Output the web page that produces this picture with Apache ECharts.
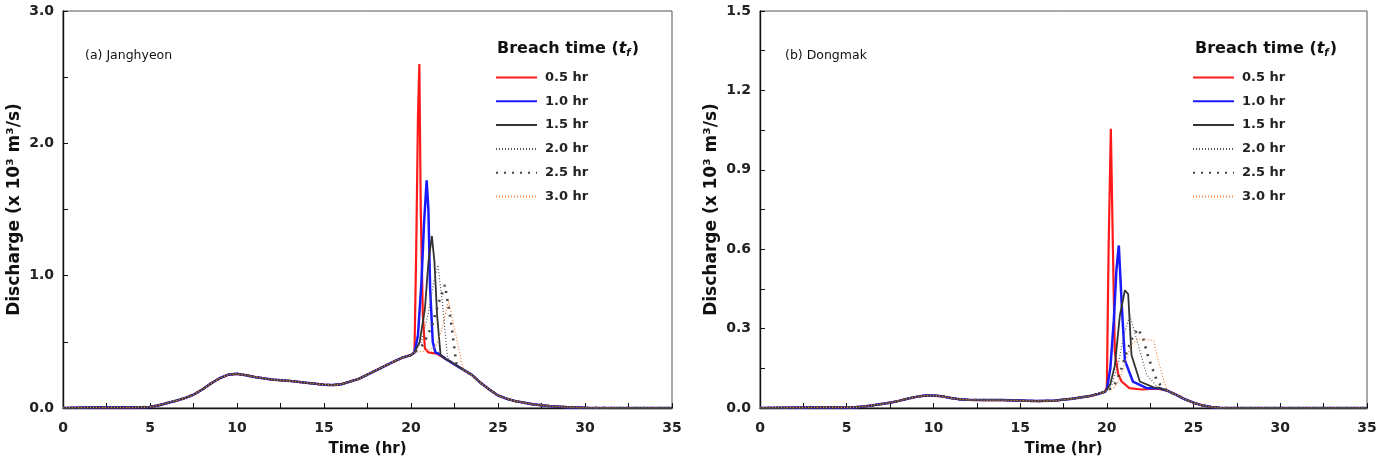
<!DOCTYPE html>
<html lang="en">
<head>
    <meta charset="UTF-8">
    <title>Breach hydrographs</title>
    <script src="https://cdn.jsdelivr.net/npm/echarts@6/dist/echarts.min.js"></script>
    <style>
        html, body { margin: 0; padding: 0; background: #fff; }
        #chart { width: 1383px; height: 462px; }
    </style>
</head>
<body>
<div id="chart"></div>
<script type="text/javascript">
    // legend names (breach time)
    var names = ['0.5 hr', '1.0 hr', '1.5 hr', '2.0 hr', '2.5 hr', '3.0 hr'];

    // (a) Janghyeon - inflow hydrograph before breach
    var baseT_a = [0, 2, 4, 5, 5.5, 6, 6.5, 7, 7.5, 8, 8.5, 9, 9.5, 10, 10.5, 11, 12, 13, 14, 15, 15.5, 16, 17, 18, 19, 19.5, 20, 20.1];
    var baseQ_a = [0, 0.005, 0.005, 0.008, 0.02, 0.038, 0.055, 0.075, 0.1, 0.14, 0.185, 0.225, 0.252, 0.258, 0.248, 0.235, 0.215, 0.205, 0.19, 0.176, 0.173, 0.18, 0.22, 0.285, 0.35, 0.38, 0.4, 0.405];
    // (a) recession after breach
    var recT_a = [23.5, 24, 24.5, 25, 25.5, 26, 26.5, 27, 28, 29, 30, 32, 35];
    var recQ_a = [0.25, 0.19, 0.14, 0.095, 0.07, 0.052, 0.04, 0.028, 0.014, 0.006, 0.002, 0, 0];
    // (a) breach segments
    var t05_a = [20.2, 20.3, 20.4, 20.48, 20.56, 20.68, 20.8, 21.0, 21.5, 22.0, 22.5, 23.0];
    var q05_a = [0.42, 1.2, 2.2, 2.6, 1.5, 0.7, 0.45, 0.42, 0.41, 0.37, 0.33, 0.29];
    var t10_a = [20.2, 20.4, 20.6, 20.75, 20.9, 21.0, 21.1, 21.25, 21.4, 21.6, 22.0, 22.5, 23.0];
    var q10_a = [0.42, 0.55, 0.95, 1.4, 1.72, 1.5, 0.9, 0.5, 0.42, 0.41, 0.37, 0.33, 0.29];
    var t15_a = [20.2, 20.5, 20.8, 21.0, 21.2, 21.35, 21.5, 21.7, 22.0, 22.5, 23.0];
    var q15_a = [0.42, 0.5, 0.75, 1.1, 1.3, 1.1, 0.7, 0.4, 0.37, 0.33, 0.29];
    var t20_a = [20.2, 20.6, 21.0, 21.3, 21.55, 21.8, 22.1, 22.5, 23.0];
    var q20_a = [0.42, 0.5, 0.72, 0.95, 1.08, 0.8, 0.38, 0.33, 0.29];
    var t25_a = [20.2, 20.7, 21.2, 21.6, 21.95, 22.3, 22.6, 23.0];
    var q25_a = [0.42, 0.48, 0.62, 0.8, 0.93, 0.65, 0.34, 0.29];
    var t30_a = [20.2, 20.8, 21.4, 21.75, 22.15, 22.5, 23.0];
    var q30_a = [0.42, 0.43, 0.46, 0.58, 0.81, 0.6, 0.29];

    // (b) Dongmak
    var baseT_b = [0, 3, 5, 5.5, 6, 6.5, 7, 7.5, 8, 8.5, 9, 9.5, 10, 10.5, 11, 11.5, 12, 13, 14, 15, 16, 17, 18, 19, 19.5, 19.9];
    var baseQ_b = [0, 0.002, 0.002, 0.003, 0.006, 0.01, 0.015, 0.02, 0.027, 0.035, 0.042, 0.047, 0.047, 0.044, 0.038, 0.033, 0.031, 0.03, 0.03, 0.028, 0.026, 0.028, 0.035, 0.045, 0.053, 0.062];
    var recT_b = [23.5, 24, 24.5, 25, 25.5, 26, 26.5, 27, 30, 35];
    var recQ_b = [0.065, 0.05, 0.033, 0.02, 0.01, 0.004, 0.001, 0, 0, 0];
    var t05_b = [20.0, 20.1, 20.23, 20.35, 20.46, 20.65, 20.85, 21.3, 22.0, 22.5, 23.0];
    var q05_b = [0.08, 0.6, 1.055, 0.6, 0.21, 0.13, 0.1, 0.075, 0.07, 0.072, 0.072];
    var t10_b = [20.0, 20.2, 20.4, 20.55, 20.69, 20.85, 21.04, 21.5, 22.3, 23.0];
    var q10_b = [0.07, 0.15, 0.33, 0.52, 0.614, 0.4, 0.18, 0.1, 0.075, 0.075];
    var t15_b = [20.0, 20.2, 20.46, 20.75, 21.04, 21.23, 21.42, 21.9, 22.7, 23.0];
    var q15_b = [0.065, 0.09, 0.16, 0.35, 0.445, 0.43, 0.2, 0.1, 0.078, 0.076];
    var t20_b = [20.0, 20.3, 20.7, 21.0, 21.33, 21.8, 22.3, 22.9, 23.2];
    var q20_b = [0.065, 0.09, 0.18, 0.28, 0.35, 0.24, 0.125, 0.08, 0.075];
    var t25_b = [20.0, 20.4, 20.8, 21.13, 21.5, 21.8, 22.1, 22.4, 22.9, 23.2];
    var q25_b = [0.065, 0.08, 0.14, 0.21, 0.27, 0.30, 0.26, 0.19, 0.1, 0.08];
    var t30_b = [20.0, 20.4, 20.75, 21.1, 21.4, 21.8, 22.2, 22.7, 22.96, 23.35];
    var q30_b = [0.065, 0.075, 0.11, 0.18, 0.24, 0.26, 0.26, 0.255, 0.18, 0.09];

    // axis ticks
    var xTicks = [0, 35, 5];
    var yTicks_a = [0, 3.0, 1.0];
    var yTicks_b = [0, 1.5, 0.3];

    function pairs(t, q) {
        var out = [];
        for (var i = 0; i < t.length; i++) out.push([t[i], q[i]]);
        return out;
    }
    function build(bt, bq, st, sq, rt, rq) {
        return pairs(bt, bq).concat(pairs(st, sq)).concat(pairs(rt, rq));
    }

    var segs_a = [[t05_a, q05_a], [t10_a, q10_a], [t15_a, q15_a], [t20_a, q20_a], [t25_a, q25_a], [t30_a, q30_a]];
    var segs_b = [[t05_b, q05_b], [t10_b, q10_b], [t15_b, q15_b], [t20_b, q20_b], [t25_b, q25_b], [t30_b, q30_b]];

    var styles = [
        { color: '#ff1a1a', width: 2.2, type: 'solid' },
        { color: '#1a1aff', width: 2.5, type: 'solid' },
        { color: '#333333', width: 1.8, type: 'solid' },
        { color: '#555555', width: 1.2, type: [1, 2] },
        { color: '#444444', width: 2.6, type: [2, 6] },
        { color: '#f0843c', width: 1.2, type: [1, 2] }
    ];

    var font = '"DejaVu Sans", Verdana, sans-serif';

    function xAxis(idx) {
        return {
            type: 'value', gridIndex: idx, min: xTicks[0], max: xTicks[1], interval: xTicks[2],
            name: 'Time (hr)', nameLocation: 'middle', nameGap: 34,
            nameTextStyle: { fontFamily: font, fontWeight: 'bold', fontSize: 15, color: '#111' },
            axisLine: { lineStyle: { color: '#111', width: 1.4 } },
            axisTick: { inside: true, length: 5, lineStyle: { color: '#111' } },
            minorTick: { show: true, splitNumber: 2, length: 5, lineStyle: { color: '#111' } },
            axisLabel: { margin: 13, fontFamily: font, fontWeight: 'bold', fontSize: 14, color: '#222' },
            splitLine: { show: false }
        };
    }
    function yAxis(idx, ticks) {
        return {
            type: 'value', gridIndex: idx, min: ticks[0], max: ticks[1], interval: ticks[2],
            name: 'Discharge (x 10\u00b3 m\u00b3/s)', nameLocation: 'middle', nameGap: 40,
            nameTextStyle: { fontFamily: font, fontWeight: 'bold', fontSize: 17, color: '#111' },
            axisLine: { lineStyle: { color: '#111', width: 1.4 } },
            axisTick: { inside: true, length: 5, lineStyle: { color: '#111' } },
            minorTick: { show: true, splitNumber: 2, length: 5, lineStyle: { color: '#111' } },
            axisLabel: {
                margin: 9, fontFamily: font, fontWeight: 'bold', fontSize: 14, color: '#222',
                formatter: function (v) { return v.toFixed(1); }
            },
            splitLine: { show: false }
        };
    }

    var series = [];
    [[segs_a, baseT_a, baseQ_a, recT_a, recQ_a], [segs_b, baseT_b, baseQ_b, recT_b, recQ_b]].forEach(function (p, gi) {
        for (var i = 0; i < names.length; i++) {
            series.push({
                name: names[i], type: 'line', xAxisIndex: gi, yAxisIndex: gi,
                symbol: 'none', smooth: false,
                lineStyle: styles[i], itemStyle: { color: styles[i].color },
                z: 2 + i,
                data: build(p[1], p[2], p[0][i][0], p[0][i][1], p[3], p[4])
            });
        }
    });

    function legend(left) {
        return {
            orient: 'vertical', left: left, top: 66, itemWidth: 41, itemHeight: 14, itemGap: 10.8,
            data: names, selectedMode: false,
            itemStyle: { opacity: 0 },
            textStyle: { fontFamily: font, fontWeight: 'bold', fontSize: 13, color: '#222', padding: [0, 0, 0, 3] }
        };
    }
    function title(left) {
        return {
            type: 'text', left: left, top: 41,
            style: {
                text: '{b|Breach time (}{i|t}{s|f}{b|)}',
                rich: {
                    b: { fontFamily: font, fontWeight: 'bold', fontSize: 16, fill: '#111' },
                    i: { fontFamily: font, fontWeight: 'bold', fontStyle: 'italic', fontSize: 16, fill: '#111' },
                    s: { fontFamily: font, fontWeight: 'bold', fontStyle: 'italic', fontSize: 10, fill: '#111', padding: [8, 1, 0, 0] }
                }
            }
        };
    }
    function panel(left, text) {
        return {
            type: 'text', left: left, top: 49,
            style: { text: text, fontFamily: font, fontSize: 12.5, fill: '#111' }
        };
    }

    var myChart = echarts.init(document.getElementById('chart'));
    var option = {
        animation: false,
        backgroundColor: '#fff',
        grid: [
            { left: 63, top: 11, width: 609, height: 399, show: true, borderColor: '#555', borderWidth: 1 },
            { left: 760, top: 11, width: 607, height: 399, show: true, borderColor: '#555', borderWidth: 1 }
        ],
        xAxis: [xAxis(0), xAxis(1)],
        yAxis: [yAxis(0, yTicks_a), yAxis(1, yTicks_b)],
        legend: [legend(490), legend(1187)],
        graphic: [title(497), title(1195), panel(85, '(a) Janghyeon'), panel(785, '(b) Dongmak')],
        series: series
    };
    myChart.setOption(option);
</script>
</body>
</html>
